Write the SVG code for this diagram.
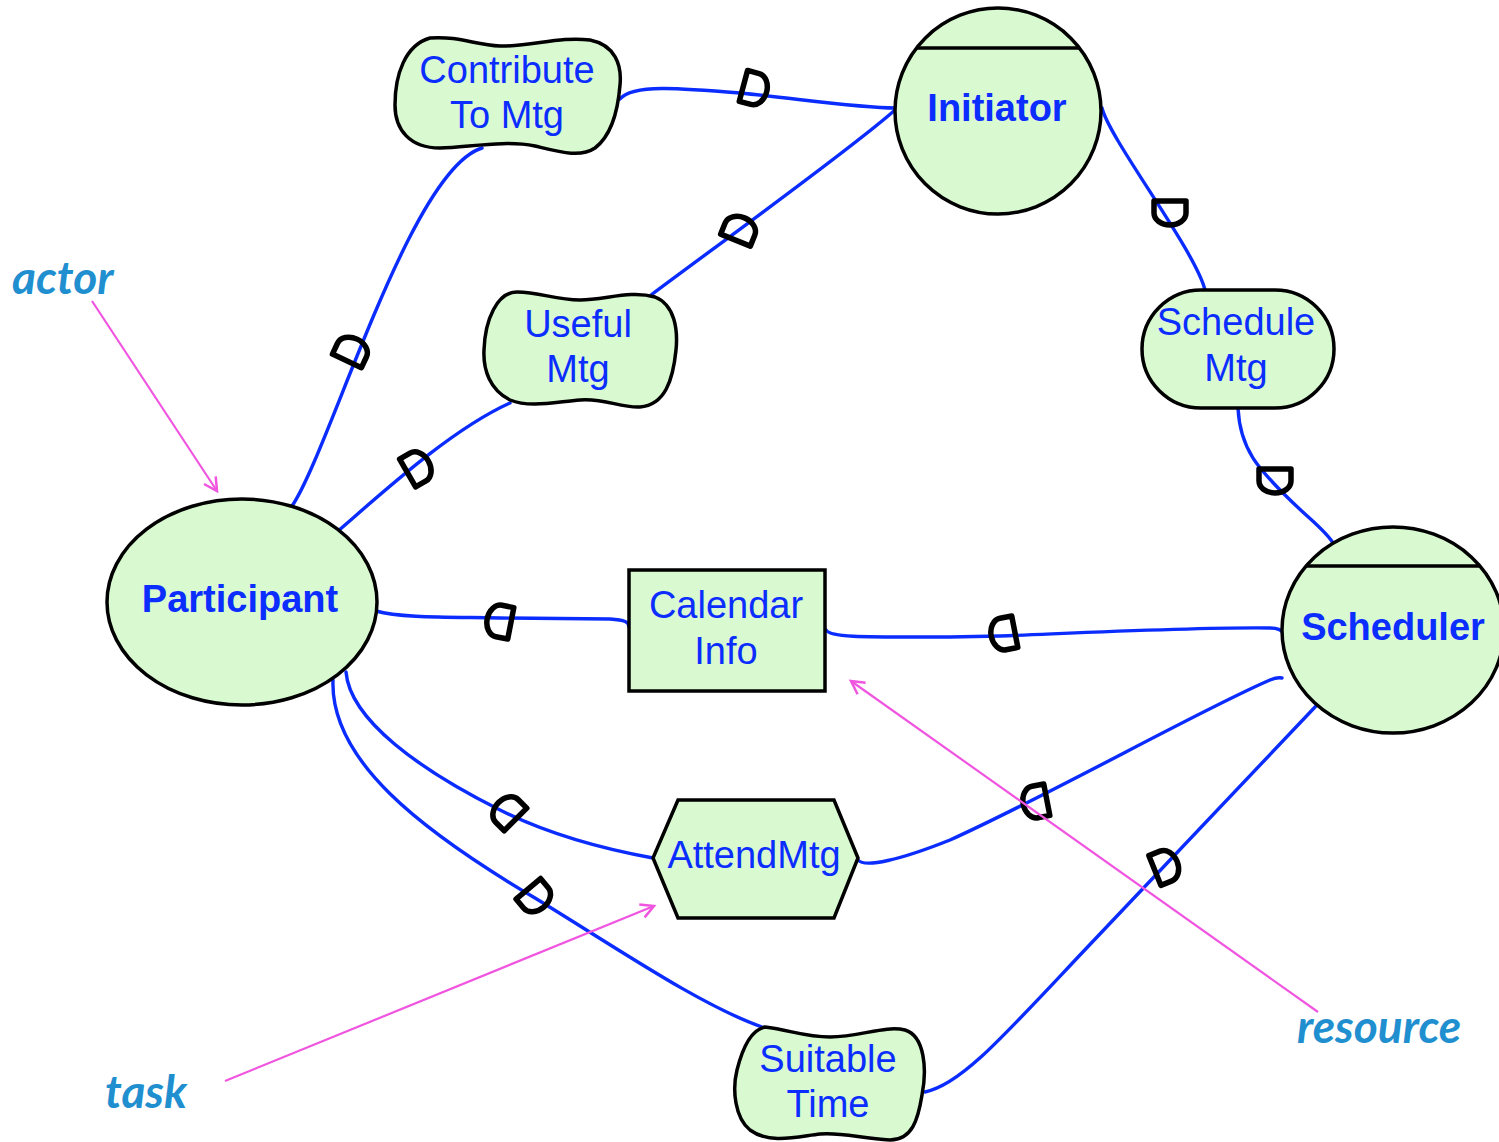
<svg xmlns="http://www.w3.org/2000/svg" xmlns:xlink="http://www.w3.org/1999/xlink" width="1499" height="1142" viewBox="0 0 1499 1142">
<style>
.node{fill:#d9f9d1;stroke:#000;stroke-width:3.5}
.bar{stroke:#000;stroke-width:3.5;fill:none}
.t{font-family:"Liberation Sans",Arial,sans-serif;font-size:38px;fill:#0b2dff;text-anchor:middle}
.b{font-weight:bold}
.conn{fill:none;stroke:#0a2cff;stroke-width:3.4;stroke-linecap:round}
.dm{fill:none;stroke:#000;stroke-width:5.5;stroke-linejoin:round}
.note{font-family:Lato,"Open Sans",sans-serif;font-style:italic;font-weight:bold;font-size:46px;fill:#1f8fd0}
.pink{fill:none;stroke:#f055e0;stroke-width:2.2}
</style>
<defs>
<path id="dm" class="dm" d="M-12,-16 L0,-16 A12,16 0 0 1 0,16 L-12,16 Z"/>
<marker id="ah" markerWidth="20" markerHeight="20" refX="14" refY="8" orient="auto" markerUnits="userSpaceOnUse">
<path d="M1,1 L14,8 L1,15" fill="none" stroke="#f055e0" stroke-width="2.5"/>
</marker>
</defs>
<rect width="1499" height="1142" fill="#fff"/>

<g id="connectors">
<path class="conn" d="M292,506 C330,450 410,170 482,148"/>
<path class="conn" d="M338,531 C380,495 450,430 510,403"/>
<path class="conn" d="M620,99 C632,84 680,88 740,93 C800,99 860,108 895,108"/>
<path class="conn" d="M651,295 C700,258 850,150 895,110"/>
<path class="conn" d="M1102,108 C1110,140 1195,250 1205,290"/>
<path class="conn" d="M1238,408 C1240,450 1260,470 1285,495 C1310,520 1325,530 1333,543"/>
<path class="conn" d="M376,611 C400,618 450,617 500,618 L610,619 C625,620 629,622 629,627"/>
<path class="conn" d="M826,630 C830,638 870,637 950,637 L1000,636 C1100,632 1200,627 1270,628 C1279,628 1282,631 1282,632"/>
<path class="conn" d="M346,672 C350,720 420,770 500,810 C560,840 620,852 653,858"/>
<path class="conn" d="M858,860 C865,868 900,860 950,840 C1050,795 1200,710 1270,680 C1277,677 1282,678 1282,678"/>
<path class="conn" d="M333,680 C330,760 420,830 535,898 C620,950 700,1005 762,1027"/>
<path class="conn" d="M925,1092 C960,1085 1000,1040 1080,955 L1316,706"/>
<use xlink:href="#dm" href="#dm" transform="translate(352,350) rotate(-65)"/>
<use xlink:href="#dm" href="#dm" transform="translate(418,467) rotate(-30)"/>
<use xlink:href="#dm" href="#dm" transform="translate(755,89) rotate(15)"/>
<use xlink:href="#dm" href="#dm" transform="translate(740,229) rotate(-68)"/>
<use xlink:href="#dm" href="#dm" transform="translate(1170,213) rotate(90)"/>
<use xlink:href="#dm" href="#dm" transform="translate(1275,481) rotate(90)"/>
<use xlink:href="#dm" href="#dm" transform="translate(499,621) rotate(191)"/>
<use xlink:href="#dm" href="#dm" transform="translate(1003,634) rotate(169)"/>
<use xlink:href="#dm" href="#dm" transform="translate(507,811) rotate(225)"/>
<use xlink:href="#dm" href="#dm" transform="translate(1035,802) rotate(169)"/>
<use xlink:href="#dm" href="#dm" transform="translate(536,898) rotate(50)"/>
<use xlink:href="#dm" href="#dm" transform="translate(1166,866) rotate(-22)"/>
</g>

<g id="contribute">
<path class="node" d="M430,38 C460,36 475,45 500,46 C530,47 560,36 590,40 C615,45 622,65 620,85 C618,110 612,135 595,148 C580,158 560,152 535,146 C505,140 470,147 440,148 C410,148 395,130 395,105 C395,75 405,45 430,38 Z"/>
<text class="t" x="507" y="83">Contribute</text>
<text class="t" x="507" y="128">To Mtg</text>
</g>
<g id="useful">
<path class="node" d="M517,292 C540,292 555,300 580,300 C605,300 630,290 655,297 C675,305 678,330 676,350 C673,380 665,405 640,407 C620,408 605,398 580,400 C555,402 530,408 510,400 C490,390 483,370 484,350 C485,320 497,292 517,292 Z"/>
<text class="t" x="578" y="337">Useful</text>
<text class="t" x="578" y="382">Mtg</text>
</g>
<g id="initiator">
<circle class="node" cx="998" cy="111" r="103"/>
<line class="bar" x1="916" y1="48" x2="1080" y2="48"/>
<text class="t b" x="997" y="121">Initiator</text>
</g>
<g id="schedulemtg">
<rect class="node" x="1142" y="290" width="192" height="118" rx="59" ry="59"/>
<text class="t" x="1236" y="335">Schedule</text>
<text class="t" x="1236" y="381">Mtg</text>
</g>
<g id="scheduler">
<ellipse class="node" cx="1393" cy="630" rx="111" ry="103"/>
<line class="bar" x1="1306" y1="566" x2="1480" y2="566"/>
<text class="t b" x="1393" y="640">Scheduler</text>
</g>
<g id="participant">
<ellipse class="node" cx="242" cy="602" rx="135" ry="103"/>
<text class="t b" x="240" y="612">Participant</text>
</g>
<g id="calendar">
<rect class="node" x="629" y="570" width="196" height="121"/>
<text class="t" x="726" y="618">Calendar</text>
<text class="t" x="726" y="664">Info</text>
</g>
<g id="attendmtg">
<polygon class="node" points="678,800 834,800 858,858 834,918 678,918 653,858"/>
<text class="t" x="754" y="868">AttendMtg</text>
</g>
<g id="suitable">
<path class="node" d="M765,1027 C790,1030 805,1037 830,1037 C860,1037 885,1025 905,1030 C925,1036 927,1070 922,1095 C918,1120 912,1140 890,1140 C860,1138 840,1132 820,1134 C800,1136 770,1145 750,1130 C735,1118 732,1090 737,1070 C742,1050 750,1030 765,1027 Z"/>
<text class="t" x="828" y="1072">Suitable</text>
<text class="t" x="828" y="1117">Time</text>
</g>

<g id="annotations">
<text class="note" x="12" y="294">actor</text>
<text class="note" x="105" y="1108">task</text>
<text class="note" x="1297" y="1043">resource</text>
<line class="pink" x1="92" y1="301" x2="217" y2="491" marker-end="url(#ah)"/>
<line class="pink" x1="225" y1="1081" x2="654" y2="906" marker-end="url(#ah)"/>
<line class="pink" x1="1318" y1="1012" x2="851" y2="681" marker-end="url(#ah)"/>
</g>
</svg>
